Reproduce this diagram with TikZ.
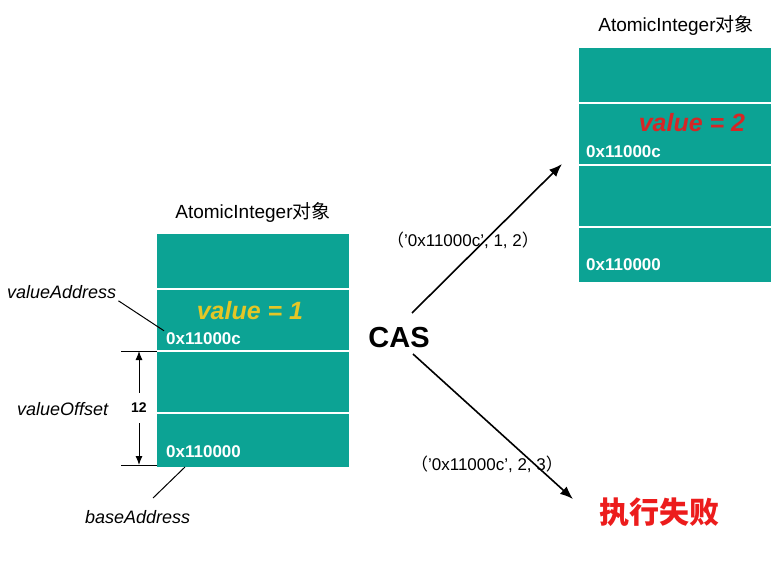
\documentclass[tikz,border=0pt]{standalone}
\usepackage{fontspec}
\setmainfont{Liberation Sans}
\newfontfamily\cjk{Noto Sans CJK SC}
\usetikzlibrary{arrows.meta}
\tikzset{>={Latex[length=13pt,width=10pt]}}
\definecolor{cellteal}{RGB}{12,163,148}
\definecolor{valyellow}{RGB}{228,198,38}
\definecolor{valred}{RGB}{214,38,38}
\definecolor{failred}{RGB}{236,28,28}
\tikzset{
  cell/.style={rectangle, fill=cellteal, minimum width=192pt, anchor=north west, inner sep=0pt, outer sep=0pt},
  addr/.style={anchor=west, text=white, font=\fontsize{17}{20}\selectfont\bfseries, inner sep=2pt},
  objtitle/.style={font=\fontsize{19}{22}\selectfont},
  val/.style={font=\fontsize{25}{28}\selectfont\bfseries\itshape},
  ital/.style={anchor=west, font=\fontsize{18}{21}\selectfont\itshape, inner sep=2pt},
  call/.style={font=\fontsize{17}{20}\selectfont},
}
\begin{document}
\begin{tikzpicture}[x=1pt,y=-1pt]
  \useasboundingbox (0,0) rectangle (779,570);
  % left object
  \node[objtitle] (ltitle) at (253,212) {AtomicInteger{\cjk 对象}};
  \node[cell, minimum height=54pt] (l1) at (157,234) {};
  \node[cell, minimum height=60pt] (l2) at (157,290) {};
  \node[cell, minimum height=60pt] (l3) at (157,352) {};
  \node[cell, minimum height=53pt] (l4) at (157,414) {};
  \node[val, text=valyellow] (lval) at (250,311) {value = 1};
  \node[addr] (laddr) at (164,339) {0x11000c};
  \node[addr] (lbase) at (164,452) {0x110000};
  % labels on the left
  \node[ital] (vaddr) at (5,292) {valueAddress};
  \node[ital] (voff) at (15,409) {valueOffset};
  \node[ital] (baddr) at (83,517) {baseAddress};
  \coordinate (offTop) at (139,351);
  \coordinate (offBot) at (139,465);
  \draw[line width=1pt] (offTop) ++(-18,0) -- ++(36,0);
  \draw[line width=1pt] (offBot) ++(-18,0) -- ++(36,0);
  \draw[<->, line width=1pt, >={Latex[length=9pt,width=7pt]}] (offTop) -- node[fill=white, inner xsep=1pt, inner ysep=10pt, font=\fontsize{14}{16}\selectfont\bfseries] (off) {12} (offBot);
  \draw[line width=1pt] (vaddr.south east) -- (laddr.north west);
  \coordinate (bLeadA) at (185,467);
  \coordinate (bLeadB) at (153,498);
  \draw[line width=1pt] (bLeadA) -- (bLeadB);
  % CAS and the two calls
  \node[font=\fontsize{29}{32}\selectfont\bfseries] (cas) at (399,338) {CAS};
  \coordinate (okFrom) at (412,313);
  \coordinate (okTo) at (562,164);
  \coordinate (failFrom) at (413,354);
  \coordinate (failTo) at (573,499);
  \draw[->, line width=1.6pt] (okFrom) -- (okTo);
  \draw[->, line width=1.6pt] (failFrom) -- (failTo);
  \node[call] (okcall) at (463,240) {{\cjk （}’0x11000c’, 1, 2{\cjk ）}};
  \node[call] (failcall) at (487,464) {{\cjk （}’0x11000c’, 2, 3{\cjk ）}};
  % right object
  \node[objtitle] (rtitle) at (676,25) {AtomicInteger{\cjk 对象}};
  \node[cell, minimum height=54pt] (r1) at (579,48) {};
  \node[cell, minimum height=60pt] (r2) at (579,104) {};
  \node[cell, minimum height=60pt] (r3) at (579,166) {};
  \node[cell, minimum height=54pt] (r4) at (579,228) {};
  \node[val, text=valred] (rval) at (692,123) {value = 2};
  \node[addr] (raddr) at (584,152) {0x11000c};
  \node[addr] (rbase) at (584,265) {0x110000};
  \node[font=\fontsize{30}{34}\selectfont\cjk\bfseries, text=failred] (fail) at (659,512) {执行失败};
\end{tikzpicture}
\end{document}
